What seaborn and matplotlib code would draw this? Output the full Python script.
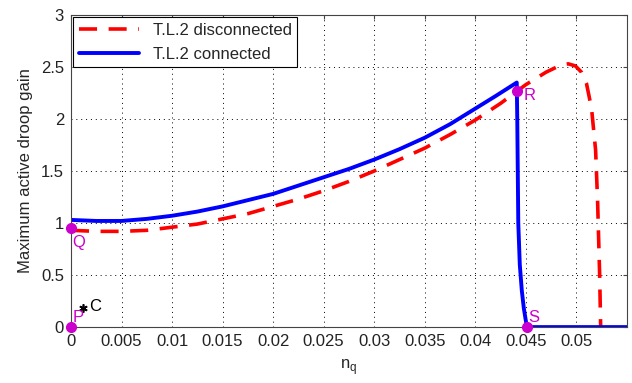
import matplotlib
matplotlib.use("Agg")
import matplotlib.pyplot as plt
import seaborn as sns
import pandas as pd
import numpy as np

# --- data ---
conn_x = [0, 0.0025, 0.005, 0.0075, 0.01, 0.0125, 0.015, 0.0175, 0.02, 0.0225, 0.025,
          0.0275, 0.03, 0.0325, 0.035, 0.0375, 0.04, 0.042, 0.0441, 0.04415, 0.0442,
          0.04425, 0.0444, 0.0446, 0.0448, 0.0451, 0.055]
conn_y = [1.03, 1.02, 1.02, 1.04, 1.07, 1.11, 1.16, 1.22, 1.28, 1.36, 1.44,
          1.52, 1.61, 1.71, 1.82, 1.95, 2.10, 2.22, 2.35, 2.0, 1.5,
          1.0, 0.6, 0.35, 0.18, 0.0, 0.0]

disc_x = [0, 0.0025, 0.005, 0.0075, 0.01, 0.0125, 0.015, 0.0175, 0.02, 0.0225, 0.025,
          0.0275, 0.03, 0.0325, 0.035, 0.0375, 0.04, 0.0425, 0.045, 0.047, 0.0485,
          0.0492, 0.0499, 0.0505, 0.051, 0.0515, 0.0519, 0.0521, 0.0523, 0.0524]
disc_y = [0.93, 0.92, 0.92, 0.93, 0.96, 0.99, 1.04, 1.09, 1.16, 1.23, 1.31,
          1.40, 1.50, 1.61, 1.72, 1.85, 1.99, 2.15, 2.33, 2.45, 2.52,
          2.53, 2.51, 2.45, 2.34, 2.10, 1.70, 1.20, 0.50, 0.0]

pts_name = ["P", "Q", "R", "S"]
pts_x = [0.0, 0.0, 0.0441, 0.0451]
pts_y = [0.0, 0.95, 2.27, 0.0]

c_x, c_y = 0.0012, 0.18

series_names = ["T.L.2 disconnected", "T.L.2 connected"]
x_ticks = [0, 0.005, 0.01, 0.015, 0.02, 0.025, 0.03, 0.035, 0.04, 0.045, 0.05]
x_tick_labels = ["0", "0.005", "0.01", "0.015", "0.02", "0.025", "0.03", "0.035", "0.04", "0.045", "0.05"]
y_ticks = [0, 0.5, 1, 1.5, 2, 2.5, 3]
y_tick_labels = ["0", "0.5", "1", "1.5", "2", "2.5", "3"]

sns.set_style("white")
plt.rcParams["font.family"] = ["Liberation Sans", "DejaVu Sans"]
plt.rcParams["font.size"] = 12

fs = 12
fig = plt.figure(figsize=(6.32, 3.83), dpi=100)
ax = fig.add_axes([0.1123, 0.146, 0.992 - 0.1123, 0.961 - 0.146])

df_d = pd.DataFrame({"x": disc_x, "y": disc_y})
df_c = pd.DataFrame({"x": conn_x, "y": conn_y})

sns.lineplot(data=df_d, x="x", y="y", ax=ax, sort=False, estimator=None,
             color="#ff0000", lw=2.6, dashes=False, label=series_names[0])
ax.lines[-1].set_dashes((5, 3.2))
sns.lineplot(data=df_c, x="x", y="y", ax=ax, sort=False, estimator=None,
             color="#0000ff", lw=2.8, label=series_names[1])

# marker points
ax.plot(pts_x, pts_y, "o", color="#cc00cc", markersize=7, clip_on=False, zorder=5)
offsets = {"P": (1, 7), "Q": (1, -10), "R": (5, -3), "S": (1, 7)}
for n, xx, yy in zip(pts_name, pts_x, pts_y):
    dx, dy = offsets[n]
    ax.annotate(n, (xx, yy), xytext=(dx, dy), textcoords="offset points",
                color="#cc00cc", fontsize=fs, ha="left", va="center")
ax.plot([c_x], [c_y], marker=(6, 2, 0), color="black", markersize=6, mew=1.2)
ax.annotate("C", (c_x, c_y), xytext=(4, 1), textcoords="offset points",
            color="black", fontsize=fs, ha="left", va="center")

ax.set_xlim(0, 0.055)
ax.set_ylim(0, 3)
ax.set_xticks(x_ticks)
ax.set_xticklabels(x_tick_labels)
ax.set_yticks(y_ticks)
ax.set_yticklabels(y_tick_labels)
ax.grid(True, linestyle=(0, (1, 4)), color="black", lw=0.7)
ax.tick_params(direction="in", length=3, top=True, right=True, labelsize=fs,
               labelcolor="#222222", color="#444444", pad=5)
for s in ax.spines.values():
    s.set_color("#444444")
    s.set_linewidth(0.8)

ax.set_xlabel(r"n$_\mathregular{q}$", fontsize=fs, labelpad=6)
ax.set_ylabel("Maximum active droop gain", fontsize=fs, labelpad=6)

leg = ax.legend(loc="upper left", fancybox=False, edgecolor="black", framealpha=1,
                handlelength=3.6, fontsize=fs, borderaxespad=0.15, borderpad=0.35,
                labelspacing=0.5)
leg.get_frame().set_linewidth(0.8)

fig.savefig("out.png", dpi=100)
